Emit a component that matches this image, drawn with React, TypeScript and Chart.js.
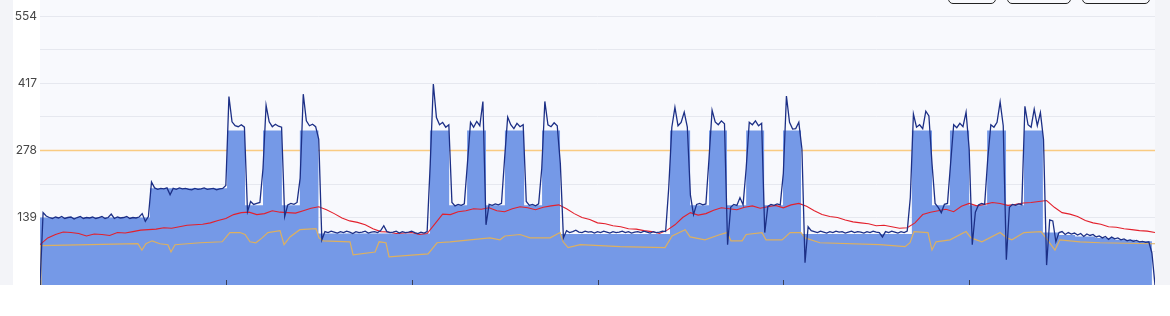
import React, { useEffect, useRef } from "react";
import { Chart, registerables } from "chart.js";

Chart.register(...registerables);

// ---- axis set-up ----
const xMax = 360;
const xTickStep = 60;
const yMax = 554;
const yGridStep = 69.25;
const yTickLabels = ["139", "278", "417", "554"];
const thresholdValue = 277;

// ---- measured load (navy line), one sample per minute ----
const measuredLoad = [
  0, 149, 142, 139, 137, 140, 138, 141, 137, 139,
  140, 136, 139, 141, 137, 139, 138, 140, 137, 139,
  141, 137, 139, 146, 137, 140, 138, 139, 141, 137,
  139, 138, 140, 147, 131, 141, 212, 200, 197, 199,
  198, 200, 186, 199, 197, 200, 198, 199, 197, 196,
  199, 197, 198, 200, 197, 198, 199, 196, 198, 199,
  205, 388, 336, 328, 326, 330, 325, 151, 172, 166,
  168, 170, 240, 370, 336, 326, 331, 327, 325, 141,
  165, 168, 166, 170, 220, 393, 338, 328, 331, 326,
  300, 93, 110, 108, 111, 109, 107, 110, 108, 111,
  109, 106, 110, 108, 109, 111, 107, 109, 110, 108,
  112, 122, 110, 108, 109, 111, 107, 110, 108, 109,
  111, 108, 106, 109, 107, 110, 250, 414, 345, 330,
  335, 325, 330, 170, 163, 166, 164, 167, 250, 335,
  325, 337, 328, 378, 124, 166, 164, 167, 165, 168,
  260, 346, 330, 322, 333, 326, 330, 172, 164, 166,
  163, 167, 240, 378, 330, 326, 334, 328, 250, 97,
  112, 108, 110, 113, 109, 108, 111, 109, 110, 107,
  110, 108, 111, 109, 107, 110, 108, 109, 111, 108,
  110, 107, 109, 110, 108, 111, 109, 107, 110, 108,
  109, 111, 110, 200, 325, 366, 328, 335, 356, 325,
  185, 145, 166, 168, 165, 167, 260, 360, 336, 330,
  338, 332, 83, 160, 166, 164, 180, 165, 240, 335,
  330, 338, 328, 333, 108, 162, 166, 164, 167, 165,
  230, 389, 335, 321, 322, 335, 280, 46, 120, 112,
  110, 108, 111, 109, 107, 110, 108, 111, 109, 110,
  107, 109, 111, 108, 110, 109, 107, 110, 108, 111,
  109, 108, 99, 110, 108, 111, 109, 107, 110, 108,
  111, 180, 352, 325, 330, 322, 358, 348, 250, 168,
  160, 149, 166, 168, 250, 330, 324, 333, 326, 356,
  280, 83, 150, 165, 168, 166, 260, 330, 325, 335,
  377, 328, 52, 160, 166, 164, 167, 165, 368, 330,
  325, 362, 328, 355, 300, 41, 134, 132, 89, 108,
  110, 104, 108, 105, 107, 103, 106, 100, 105, 102,
  104, 99, 101, 97, 100, 94, 99, 95, 97, 93,
  95, 91, 93, 90, 92, 89, 90, 88, 89, 66, 0,
];

// ---- capacity (light blue stepped area): change points ----
const capacityT = [
  0, 35.5, 60.4, 66.2, 72.0, 78.1, 83.9, 89.9,
  125.9, 132.1, 137.9, 144.0, 150.1, 156.3, 162.1, 167.9,
  203.4, 209.9, 216.0, 221.8, 228.0, 233.8, 239.9, 245.7,
  281.5, 288.0, 293.8, 300.0, 305.8, 311.9, 317.7, 323.8,
  328.7, 334.2, 340.6, 347.1, 353.5, 359.0,
];
const capacityV = [
  139, 199, 318, 164, 318, 164, 318, 106,
  318, 164, 318, 164, 318, 164, 318, 105,
  318, 164, 318, 164, 318, 164, 318, 105,
  318, 164, 318, 164, 318, 164, 318, 108,
  103, 100, 97, 93, 90, 0,
];

// ---- average (red line), one sample every 2.5 minutes ----
const averageStep = 2.5;
const averageLoad = [
  83, 97, 104, 109, 108, 106, 101, 105, 104, 102,
  108, 107, 110, 113, 114, 115, 118, 117, 120, 123,
  124, 125, 128, 133, 137, 145, 149, 150, 145, 147,
  153, 150, 149, 148, 153, 158, 161, 155, 147, 138,
  132, 129, 124, 116, 110, 109, 106, 107, 108, 104,
  106, 126, 146, 145, 151, 153, 157, 156, 159, 153,
  151, 157, 161, 159, 155, 160, 163, 165, 157, 147,
  139, 135, 128, 126, 122, 120, 116, 115, 112, 110,
  106, 113, 124, 139, 149, 144, 147, 154, 159, 157,
  155, 160, 163, 158, 161, 164, 159, 165, 168, 162,
  153, 145, 141, 139, 134, 130, 128, 126, 122, 123,
  120, 117, 118, 128, 145, 150, 153, 156, 151, 162,
  168, 163, 166, 170, 168, 164, 166, 169, 170, 172,
  174, 160, 149, 146, 141, 133, 128, 125, 120, 119,
  116, 114, 112, 111, 108,
];

// ---- baseline (tan line): change points ----
const baselineT = [
  0, 0.3, 16.1, 31.6, 32.9, 34.2, 36.2, 38.7, 41.3, 42.3, 43.6, 51.7, 58.8,
  61.3, 64.6, 66.2, 67.8, 69.7, 71.7, 73.6, 77.5, 78.8, 80.7, 83.9, 89.1,
  90.1, 91.4, 100.1, 101.1, 108.2, 109.5, 111.7, 112.7, 125.3, 128.2, 132.4,
  138.8, 145.3, 148.5, 150.1, 155.0, 158.2, 164.7, 167.9, 168.9, 170.5,
  174.4, 187.3, 201.8, 204.1, 208.3, 209.9, 214.7, 219.6, 221.8, 223.1,
  226.7, 228.0, 233.1, 234.4, 239.6, 242.2, 245.7, 247.0, 251.8, 271.2,
  279.3, 280.9, 282.2, 286.7, 288.0, 289.3, 293.8, 299.0, 300.6, 304.1,
  310.0, 312.2, 313.8, 317.7, 323.2, 324.8, 327.7, 329.3, 335.8, 342.2,
  359.0, 360.0,
];
const baselineV = [
  0, 81, 83, 85, 72, 85, 91, 85, 83, 68, 83, 87, 89,
  108, 108, 104, 89, 87, 97, 108, 112, 83, 99, 114, 116,
  97, 91, 89, 62, 68, 89, 87, 58, 64, 87, 89,
  93, 97, 93, 101, 104, 97, 97, 108, 89, 77,
  83, 79, 77, 101, 114, 99, 93, 104, 108, 91,
  91, 104, 108, 93, 93, 108, 108, 97, 87, 83,
  79, 87, 110, 108, 72, 89, 93, 110, 97, 89,
  108, 97, 93, 108, 110, 97, 72, 93, 89, 87,
  85, 85,
];

const plotBackground = {
  id: "plotBackground",
  beforeDraw(chart: any) {
    const { ctx, chartArea } = chart;
    ctx.save();
    ctx.fillStyle = "#f8f9fd";
    ctx.fillRect(chartArea.left, 0, chartArea.right - chartArea.left, chartArea.bottom);
    ctx.restore();
  },
};

const xTickMarks = {
  id: "xTickMarks",
  afterDatasetsDraw(chart: any) {
    const { ctx, chartArea, scales } = chart;
    const xs = scales.x;
    let values: number[] = (xs.ticks || []).map((t: any) => t.value);
    if (!values.length) {
      for (let v = 0; v <= xMax; v += xTickStep) values.push(v);
    }
    ctx.save();
    ctx.strokeStyle = "#3b3f55";
    ctx.lineWidth = 1;
    values.forEach((v) => {
      const px = Math.round(xs.getPixelForValue(v)) + 0.5;
      ctx.beginPath();
      ctx.moveTo(px, chartArea.bottom - 5);
      ctx.lineTo(px, chartArea.bottom);
      ctx.stroke();
    });
    ctx.restore();
  },
};

export default function App() {
  const canvasRef = useRef<HTMLCanvasElement>(null);

  useEffect(() => {
    document.body.style.margin = "0";
    const canvas = canvasRef.current;
    if (!canvas) return;
    const chart = new Chart(canvas, {
      type: "line",
      data: {
        datasets: [
          {
            label: "Load",
            data: measuredLoad.map((v, i) => ({ x: i, y: v })),
            borderColor: "#1c2f86",
            borderWidth: 1.3,
            pointRadius: 0,
            fill: false,
            order: 0,
          },
          {
            label: "Average",
            data: averageLoad.map((v, i) => ({ x: i * averageStep, y: v })),
            borderColor: "#e3202c",
            borderWidth: 1.1,
            pointRadius: 0,
            fill: false,
            order: 1,
          },
          {
            label: "Baseline",
            data: baselineT.map((t, i) => ({ x: t, y: baselineV[i] })),
            borderColor: "#ddb060",
            borderWidth: 1.2,
            pointRadius: 0,
            fill: false,
            order: 2,
          },
          {
            label: "Capacity",
            data: capacityT.map((t, i) => ({ x: t, y: capacityV[i] })),
            borderColor: "#7599e7",
            backgroundColor: "#7599e7",
            borderWidth: 0,
            pointRadius: 0,
            stepped: true,
            fill: "origin",
            order: 3,
          },
          {
            label: "Threshold",
            data: [
              { x: 0, y: thresholdValue },
              { x: xMax, y: thresholdValue },
            ],
            borderColor: "#f9cb82",
            borderWidth: 1.5,
            pointRadius: 0,
            fill: false,
            order: 4,
          },
        ],
      },
      options: {
        responsive: false,
        animation: false,
        layout: { padding: { top: 16, left: 0, right: 0, bottom: 0 } },
        plugins: {
          legend: { display: false },
          tooltip: { enabled: false },
        },
        scales: {
          x: {
            type: "linear",
            min: 0,
            max: xMax,
            display: false,
            ticks: { stepSize: xTickStep },
          },
          y: {
            min: 0,
            max: yMax,
            border: { display: false },
            grid: { color: "#e6e8ef", drawTicks: false },
            ticks: {
              stepSize: yGridStep,
              padding: 3,
              color: "#474747",
              font: { family: "Inter", size: 12 },
              callback: (_v: any, index: number) =>
                index > 0 && index % 2 === 0 ? yTickLabels[index / 2 - 1] : "",
            },
            afterFit: (scale: any) => {
              scale.width = 27;
              scale.paddingTop = 0;
              scale.paddingBottom = 0;
            },
          },
        },
      },
      plugins: [plotBackground, xTickMarks],
    });
    return () => chart.destroy();
  }, []);

  const btn = (left: number, width: number): React.CSSProperties => ({
    position: "absolute",
    left,
    top: -26,
    width,
    height: 30,
    boxSizing: "border-box",
    border: "1.3px solid #222",
    borderRadius: 5,
    background: "transparent",
  });

  return (
    <div style={{ position: "relative", width: 1170, height: 316, background: "#ffffff", overflow: "hidden" }}>
      <div style={{ position: "absolute", left: 0, top: 0, width: 1170, height: 285, background: "#f3f4f8" }} />
      <div style={{ position: "absolute", left: 13, top: 0, width: 1142, height: 285, background: "#ffffff" }}>
        <canvas ref={canvasRef} width={1142} height={285} style={{ display: "block" }} />
      </div>
      <div style={btn(948, 48)} />
      <div style={btn(1007, 64)} />
      <div style={btn(1082, 68)} />
    </div>
  );
}
